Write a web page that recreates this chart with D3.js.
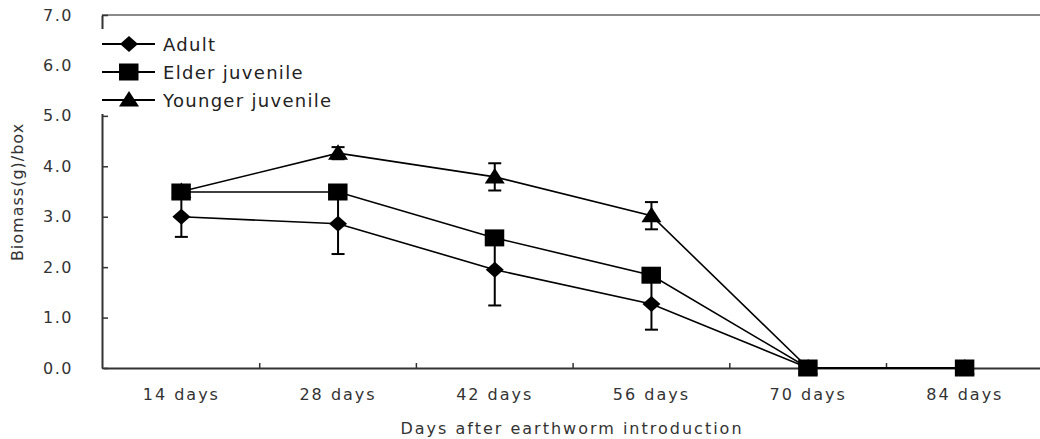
<!DOCTYPE html>
<html>
<head>
<meta charset="utf-8">
<script src="https://cdn.jsdelivr.net/npm/d3@7"></script>
<style>
  body { margin: 0; background: #fff; }
  svg { display: block; }
  text { font-family: "DejaVu Sans", sans-serif; }
</style>
</head>
<body>
<svg class="chart"></svg>
<script>
// Data
const days = ['14 days', '28 days', '42 days', '56 days', '70 days', '84 days'];
const adult = [3.0, 2.86, 1.95, 1.27, 0, 0];
const adultErr = [0.4, 0.6, 0.71, 0.51, 0, 0];
const elder = [3.49, 3.49, 2.58, 1.84, 0, 0];
const elderErr = [0, 0, 0, 0, 0, 0];
const younger = [3.5, 4.26, 3.79, 3.02, 0, 0];
const youngerErr = [0, 0.12, 0.27, 0.27, 0, 0];
const yTicks = [0, 1, 2, 3, 4, 5, 6, 7];

const svgWidth = 1040;
const svgHeight = 439;
const margin = { top: 15, left: 103, bottom: 71 };

const svg = d3.select('.chart')
  .attr('width', svgWidth)
  .attr('height', svgHeight);

// scales
const xScale = d3.scaleBand()
  .domain(days)
  .range([margin.left, margin.left + 6 * 156.7])
  .padding(0);

const yScale = d3.scaleLinear()
  .domain([0, 7])
  .range([svgHeight - margin.bottom, margin.top]);

const cx = d => xScale(d) + xScale.bandwidth() / 2;

// top border (gray)
svg.append('line')
  .attr('x1', margin.left - 1).attr('x2', svgWidth)
  .attr('y1', yScale(7)).attr('y2', yScale(7))
  .attr('stroke', '#8a8a8a')
  .attr('stroke-width', 2);

// y axis, ticks pointing inward
const yAxis = svg.append('g')
  .attr('transform', 'translate(' + (margin.left - 1) + ',0)')
  .call(d3.axisLeft(yScale).tickValues(yTicks).tickFormat(d3.format('.1f'))
    .tickSizeInner(-6).tickSizeOuter(0).tickPadding(29));
yAxis.select('.domain').attr('stroke', '#333').attr('stroke-width', 2);
yAxis.selectAll('line').attr('stroke', '#333').attr('stroke-width', 1.5);
yAxis.selectAll('text')
  .attr('font-size', '16px')
  .attr('letter-spacing', '1.5px')
  .attr('fill', '#333')
  .style('font-family', '"DejaVu Sans", sans-serif');

// x axis, labels at band centers
const xAxis = svg.append('g')
  .attr('transform', 'translate(0,' + yScale(0) + ')')
  .call(d3.axisBottom(xScale).tickSize(0).tickPadding(21));
xAxis.select('.domain').attr('stroke', '#333').attr('stroke-width', 2);
xAxis.selectAll('text')
  .attr('font-size', '16px')
  .attr('letter-spacing', '2px')
  .attr('fill', '#333')
  .style('font-family', '"DejaVu Sans", sans-serif');

// x ticks at band boundaries, pointing up
svg.append('g').selectAll('line')
  .data(days.slice(1))
  .enter()
  .append('line')
  .attr('x1', d => xScale(d)).attr('x2', d => xScale(d))
  .attr('y1', yScale(0)).attr('y2', yScale(0) - 5)
  .attr('stroke', '#333')
  .attr('stroke-width', 1.5);

// axis titles
svg.append('text')
  .attr('x', 572)
  .attr('y', 434)
  .attr('text-anchor', 'middle')
  .attr('font-size', '16px')
  .attr('letter-spacing', '2px')
  .attr('fill', '#333')
  .text('Days after earthworm introduction');

svg.append('text')
  .attr('transform', 'rotate(-90)')
  .attr('x', -192)
  .attr('y', 23)
  .attr('text-anchor', 'middle')
  .attr('font-size', '16px')
  .attr('letter-spacing', '1px')
  .attr('fill', '#333')
  .text('Biomass(g)/box');

// marker shapes
const shapes = {
  diamond: 'M0,-8L9,0L0,8L-9,0Z',
  square: 'M-10,-8.5H9.5V8.5H-10Z',
  triangle: 'M0,-9L10,6.5L-10,6.5Z'
};

const series = [
  { name: 'Adult', values: adult, err: adultErr, shape: 'diamond' },
  { name: 'Younger juvenile', values: younger, err: youngerErr, shape: 'triangle' },
  { name: 'Elder juvenile', values: elder, err: elderErr, shape: 'square' }
];

const line = d3.line()
  .x((d, i) => cx(days[i]))
  .y(d => yScale(d));

// lines
series.forEach(s => {
  svg.append('path')
    .datum(s.values)
    .attr('fill', 'none')
    .attr('stroke', '#000')
    .attr('stroke-width', 1.6)
    .attr('d', line);
});

// error bars
series.forEach(s => {
  const g = svg.append('g').attr('stroke', '#000').attr('stroke-width', 2);
  const pts = s.values.map((v, i) => ({ day: days[i], v: v, e: s.err[i] })).filter(p => p.e > 0);
  g.selectAll('.stem').data(pts).enter().append('line')
    .attr('x1', p => cx(p.day)).attr('x2', p => cx(p.day))
    .attr('y1', p => yScale(p.v - p.e)).attr('y2', p => yScale(p.v + p.e));
  g.selectAll('.capLo').data(pts).enter().append('line')
    .attr('x1', p => cx(p.day) - 6.5).attr('x2', p => cx(p.day) + 6.5)
    .attr('y1', p => yScale(p.v - p.e)).attr('y2', p => yScale(p.v - p.e));
  g.selectAll('.capHi').data(pts).enter().append('line')
    .attr('x1', p => cx(p.day) - 6.5).attr('x2', p => cx(p.day) + 6.5)
    .attr('y1', p => yScale(p.v + p.e)).attr('y2', p => yScale(p.v + p.e));
});

// markers
series.forEach(s => {
  svg.append('g').selectAll('path')
    .data(s.values)
    .enter()
    .append('path')
    .attr('transform', (d, i) => 'translate(' + cx(days[i]) + ',' + yScale(d) + ')')
    .attr('d', shapes[s.shape])
    .attr('fill', '#000');
});

// legend (white box covers the axis)
const legendOrder = ['Adult', 'Elder juvenile', 'Younger juvenile'];
const legend = svg.append('g');
legend.append('rect')
  .attr('x', margin.left - 3).attr('y', 29)
  .attr('width', 255).attr('height', 85)
  .attr('fill', '#fff');
const items = legend.selectAll('.item')
  .data(legendOrder.map(n => series.find(s => s.name === n)))
  .enter()
  .append('g')
  .attr('transform', (d, i) => 'translate(' + (margin.left - 1) + ',' + (44 + i * 28) + ')');
items.append('line')
  .attr('x1', 0).attr('x2', 53)
  .attr('stroke', '#000').attr('stroke-width', 2);
items.append('path')
  .attr('transform', 'translate(27,0)')
  .attr('d', d => shapes[d.shape])
  .attr('fill', '#000');
items.append('text')
  .attr('x', 61)
  .attr('y', 7)
  .attr('font-size', '18px')
  .attr('letter-spacing', '1.3px')
  .attr('fill', '#222')
  .text(d => d.name);
</script>
</body>
</html>
